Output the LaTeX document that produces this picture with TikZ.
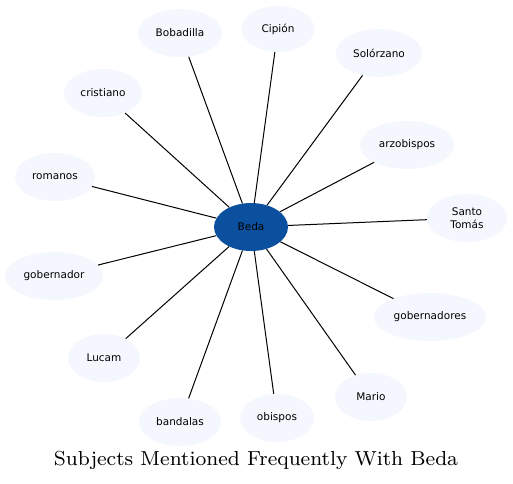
\documentclass[tikz,border=0pt]{standalone}
\usepackage{fontspec}
\newfontfamily\nodefont{DejaVu Sans}
\usetikzlibrary{shapes.geometric}
\definecolor{hubblue}{HTML}{0B509E}
\definecolor{leaffill}{HTML}{F4F7FD}
\tikzset{
  leaf/.style={ellipse, fill=leaffill, draw=none, inner sep=0pt, align=center,
    minimum height=48pt, font=\nodefont\fontsize{10.5}{12.5}\selectfont},
  hub/.style={ellipse, fill=hubblue, draw=none, inner sep=0pt,
    minimum width=74pt, minimum height=48pt, font=\nodefont\fontsize{10.5}{12.5}\selectfont},
  link/.style={draw=black, line width=1pt}
}
\begin{document}
\begin{tikzpicture}[x=1pt,y=-1pt]
\useasboundingbox (0,0) rectangle (513,483);
\node[hub] (beda) at (251,227) {Beda};
\node[leaf, minimum width=84pt] (bobadilla) at (180,33) {Bobadilla};
\node[leaf, minimum width=73pt, minimum height=46pt] (cipion) at (278,29) {Cipión};
\node[leaf, minimum width=86pt] (solorzano) at (379,53) {Solórzano};
\node[leaf, minimum width=78pt] (cristiano) at (103,93) {cristiano};
\node[leaf, minimum width=94pt] (arzobispos) at (407,145) {arzobispos};
\node[leaf, minimum width=80pt] (romanos) at (55,177) {romanos};
\node[leaf, minimum width=80pt] (santo) at (467,218) {Santo\\Tomás};
\node[leaf, minimum width=98pt] (gobernador) at (54,276) {gobernador};
\node[leaf, minimum width=112pt] (gobernadores) at (430,317) {gobernadores};
\node[leaf, minimum width=72pt] (lucam) at (104,358) {Lucam};
\node[leaf, minimum width=72pt] (mario) at (371,397) {Mario};
\node[leaf, minimum width=82pt] (bandalas) at (180,422) {bandalas};
\node[leaf, minimum width=74pt] (obispos) at (277,418) {obispos};
\foreach \n in {bobadilla,cipion,solorzano,cristiano,arzobispos,romanos,santo,gobernador,gobernadores,lucam,mario,bandalas,obispos}
  \draw[link] (beda) -- (\n);
\node[inner sep=0pt, anchor=base] (title) at (256,465) {\resizebox{404pt}{!}{\fontsize{8}{9.6}\selectfont Subjects Mentioned Frequently With Beda}};
\end{tikzpicture}
\end{document}
